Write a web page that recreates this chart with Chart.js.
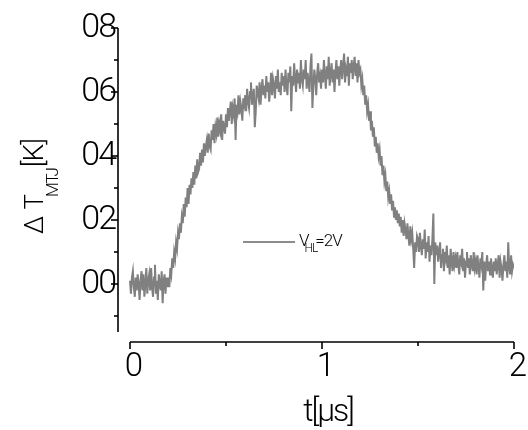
<!DOCTYPE html>
<html><head><meta charset="utf-8">
<script src="https://cdn.jsdelivr.net/npm/chart.js@4"></script>
<style>html,body{margin:0;padding:0;background:#fff}#c{display:block}</style>
</head><body>
<canvas id="c" width="528" height="430"></canvas>
<script>
const timeStart = 0, timeStep = 0.005; // µs
const deltaT = [
 0.01,-0.03,0.02,0.04,-0.01,-0.04,0.02,-0.02,0.03,0.00,-0.05,0.01,0.04,-0.02,0.03,-0.04,0.00,0.05,-0.03,0.01,
 0.03,-0.02,0.05,-0.01,-0.04,0.02,0.06,-0.03,0.01,-0.05,0.03,0.00,-0.02,0.04,-0.06,0.01,0.03,-0.03,0.02,-0.01,
 0.02,-0.01,0.05,0.03,0.08,0.05,0.10,0.08,0.13,0.11,0.16,0.14,0.19,0.16,0.21,0.19,0.25,0.21,0.27,0.24,
 0.30,0.25,0.31,0.28,0.33,0.30,0.35,0.31,0.37,0.33,0.39,0.35,0.36,0.41,0.37,0.42,0.38,0.44,0.40,0.43,
 0.45,0.41,0.47,0.43,0.42,0.48,0.45,0.50,0.44,0.49,0.47,0.52,0.46,0.50,0.48,0.53,0.45,0.51,0.49,0.47,
 0.53,0.49,0.55,0.51,0.54,0.57,0.50,0.55,0.53,0.58,0.45,0.56,0.54,0.59,0.53,0.57,0.55,0.51,0.58,0.56,
 0.59,0.54,0.61,0.57,0.55,0.60,0.63,0.56,0.59,0.61,0.49,0.54,0.62,0.60,0.58,0.63,0.56,0.61,0.64,0.59,
 0.62,0.58,0.65,0.60,0.63,0.57,0.61,0.66,0.59,0.64,0.62,0.58,0.65,0.61,0.67,0.60,0.63,0.59,0.66,0.62,
 0.65,0.60,0.67,0.62,0.59,0.66,0.63,0.68,0.54,0.65,0.62,0.69,0.64,0.60,0.67,0.63,0.66,0.61,0.70,0.64,
 0.62,0.67,0.64,0.70,0.61,0.66,0.63,0.60,0.68,0.72,0.55,0.62,0.67,0.64,0.59,0.66,0.69,0.63,0.65,0.61,
 0.67,0.63,0.70,0.65,0.61,0.68,0.64,0.71,0.62,0.66,0.69,0.63,0.67,0.60,0.66,0.70,0.64,0.68,0.62,0.67,
 0.70,0.64,0.68,0.72,0.63,0.67,0.65,0.71,0.62,0.69,0.66,0.70,0.64,0.68,0.71,0.65,0.69,0.63,0.70,0.66,
 0.67,0.62,0.64,0.59,0.62,0.56,0.59,0.54,0.56,0.51,0.54,0.48,0.51,0.46,0.49,0.43,0.46,0.41,0.44,0.40,
 0.42,0.37,0.40,0.34,0.37,0.32,0.34,0.29,0.32,0.27,0.29,0.25,0.28,0.23,0.26,0.21,0.24,0.20,0.23,0.19,
 0.22,0.18,0.21,0.16,0.20,0.15,0.19,0.17,0.14,0.19,0.15,0.12,0.18,0.14,0.16,0.11,0.05,0.13,0.10,0.15,
 0.14,0.10,0.16,0.12,0.09,0.14,0.11,0.17,0.08,0.13,0.10,0.15,0.07,0.12,0.09,0.14,0.22,0.00,0.13,0.09,
 0.12,0.07,0.10,0.13,0.05,0.09,0.11,0.04,0.10,0.08,0.12,0.05,0.09,0.03,0.11,0.07,0.04,0.10,0.06,0.08,
 0.05,0.10,0.06,0.03,0.09,0.07,0.11,0.04,0.08,0.02,0.07,0.10,0.05,0.08,0.03,0.09,0.06,0.04,0.10,0.05,
 0.07,0.03,0.09,0.05,0.02,0.08,0.06,0.10,-0.02,0.07,0.01,0.06,0.09,0.04,0.07,0.03,0.08,0.05,0.02,0.07,
 0.04,0.08,0.03,0.06,0.09,0.02,0.07,0.05,0.01,0.06,0.09,0.04,0.07,0.02,0.13,0.05,0.03,0.09,0.04,0.06,
 0.05
];
const yTickValues = [0.8, 0.6, 0.4, 0.2, 0.0];
const yTickLabels = ["08", "06", "04", "02", "00"];
const yMinorValues = [0.7, 0.5, 0.3, 0.1, -0.1];
const xTickValues = [0, 1, 2];
const xTickLabels = ["0", "1", "2"];
const xMinorValues = [0.5, 1.5];
const legendMain = "V", legendSub = "HL", legendRest = "=2V";

const points = deltaT.map((v, i) => ({x: timeStart + i * timeStep, y: v}));
const FONT = "Roboto";

const axesPlugin = {
  id: 'axes',
  afterDraw(chart) {
    const ctx = chart.ctx, xs = chart.scales.x, ys = chart.scales.y;
    ctx.save();
    ctx.strokeStyle = '#000'; ctx.lineWidth = 1.6; ctx.fillStyle = '#000';
    // y axis
    const yAx = xs.getPixelForValue(-0.0625);
    const yTop = ys.getPixelForValue(0.8), yBot = ys.getPixelForValue(-0.15);
    ctx.beginPath(); ctx.moveTo(yAx, yTop); ctx.lineTo(yAx, yBot); ctx.stroke();
    yTickValues.forEach(v => { const p = ys.getPixelForValue(v); ctx.beginPath(); ctx.moveTo(yAx - 7, p); ctx.lineTo(yAx, p); ctx.stroke(); });
    yMinorValues.forEach(v => { const p = ys.getPixelForValue(v); ctx.beginPath(); ctx.moveTo(yAx - 4, p); ctx.lineTo(yAx, p); ctx.stroke(); });
    ctx.font = `300 34px ${FONT}`; ctx.textAlign = 'right'; ctx.textBaseline = 'alphabetic';
    ctx.letterSpacing = '-2px';
    yTickValues.forEach((v, i) => { const p = ys.getPixelForValue(v); ctx.fillText(yTickLabels[i], yAx - 3, p + 9); });
    ctx.letterSpacing = '0px';
    // x axis
    const xAy = ys.getPixelForValue(-0.18125);
    const x0 = xs.getPixelForValue(0), x2 = xs.getPixelForValue(2);
    ctx.beginPath(); ctx.moveTo(x0, xAy); ctx.lineTo(x2, xAy); ctx.stroke();
    xTickValues.forEach(v => { const p = xs.getPixelForValue(v); ctx.beginPath(); ctx.moveTo(p, xAy); ctx.lineTo(p, xAy + 7); ctx.stroke(); });
    xMinorValues.forEach(v => { const p = xs.getPixelForValue(v); ctx.beginPath(); ctx.moveTo(p, xAy); ctx.lineTo(p, xAy + 4); ctx.stroke(); });
    ctx.textAlign = 'center';
    ctx.font = `300 33px ${FONT}`;
    xTickValues.forEach((v, i) => { const p = xs.getPixelForValue(v); ctx.fillText(xTickLabels[i], p + 4, xAy + 34); });
    // x title
    ctx.font = `300 32px ${FONT}`;
    ctx.letterSpacing = '-2px';
    ctx.fillText("t[μs]", 328, 421);
    ctx.letterSpacing = '0px';
    // y title
    ctx.save();
    ctx.translate(43, 234); ctx.rotate(-Math.PI / 2);
    ctx.textAlign = 'left';
    ctx.font = `300 26px ${FONT}`;
    const m1 = "Δ T"; ctx.fillText(m1, 0, 0);
    const w1 = ctx.measureText(m1).width;
    ctx.font = `300 17px ${FONT}`;
    ctx.letterSpacing = '-1px';
    const s1 = "MTJ"; ctx.fillText(s1, w1 - 3, 15);
    const w2 = ctx.measureText(s1).width;
    ctx.letterSpacing = '-1px';
    ctx.font = `300 28px ${FONT}`;
    ctx.fillText(" [K]", w1 + w2 - 8, 0);
    ctx.restore();
    // legend
    ctx.strokeStyle = '#8c8c8c'; ctx.lineWidth = 2;
    ctx.beginPath(); ctx.moveTo(243, 242); ctx.lineTo(295, 242); ctx.stroke();
    ctx.textAlign = 'left';
    ctx.letterSpacing = '-1px';
    ctx.font = `300 17px ${FONT}`;
    ctx.fillText(legendMain, 299, 246);
    const lw = ctx.measureText(legendMain).width;
    ctx.font = `300 12px ${FONT}`;
    ctx.fillText(legendSub, 299 + lw - 4, 252);
    const sw = ctx.measureText(legendSub).width;
    ctx.font = `300 17px ${FONT}`;
    ctx.fillText(legendRest, 299 + lw + sw - 6, 246);
    ctx.restore();
  }
};

new Chart(document.getElementById('c'), {
  type: 'line',
  data: { datasets: [{ data: points, borderColor: '#808080', borderWidth: 2, pointRadius: 0, tension: 0, fill: false }] },
  options: {
    responsive: false, animation: false,
    layout: { padding: { left: 118, right: 14, top: 28, bottom: 88 } },
    plugins: { legend: { display: false }, tooltip: { enabled: false } },
    scales: {
      x: { type: 'linear', min: -0.0625, max: 2, display: false },
      y: { type: 'linear', min: -0.18125, max: 0.8, display: false }
    }
  },
  plugins: [axesPlugin]
});
</script>
</body></html>
